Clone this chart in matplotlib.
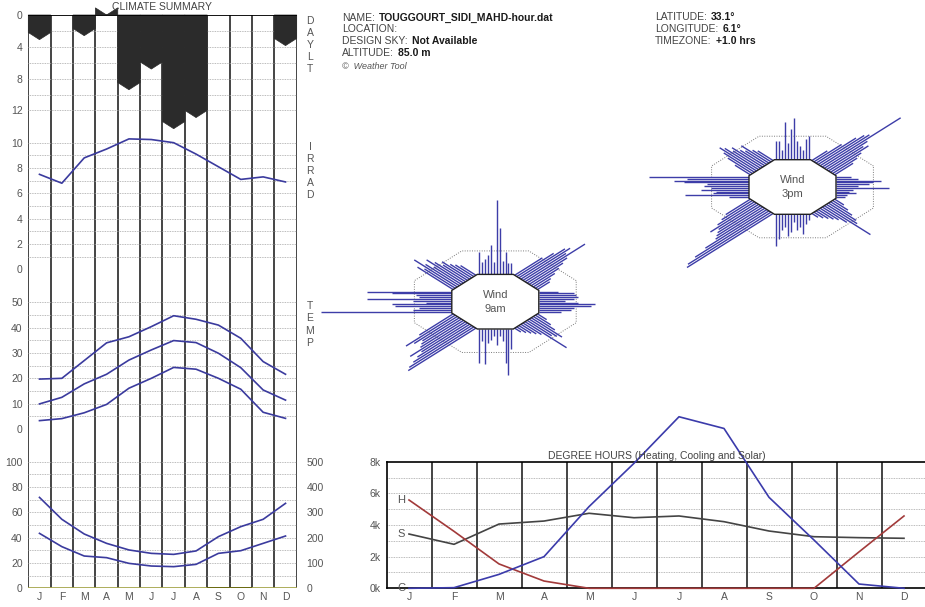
import numpy as np
import matplotlib
matplotlib.use("Agg")
import matplotlib.pyplot as plt
from matplotlib.collections import LineCollection
from matplotlib.patches import Polygon

plt.rcParams['font.family'] = ['Liberation Sans', 'DejaVu Sans']

# ---- data ----
months = ['J', 'F', 'M', 'A', 'M', 'J', 'J', 'A', 'S', 'O', 'N', 'D']
daylight = [3.1, np.nan, 2.6, 0.0, 9.4, 6.8, 14.3, 12.9, np.nan, np.nan, np.nan, 3.85]
irrad = [7.5, 6.8, 8.8, 9.5, 10.3, 10.25, 10.0, 9.1, 8.1, 7.1, 7.3, 6.9]
temp_max = [19.7, 20.0, 27.0, 34.0, 36.4, 40.4, 44.7, 43.3, 41.0, 35.8, 26.6, 21.6]
temp_mean = [9.9, 12.5, 17.8, 21.6, 27.2, 31.2, 34.9, 34.1, 29.9, 24.2, 15.4, 11.4]
temp_min = [3.3, 4.1, 6.4, 9.7, 16.1, 20.0, 24.3, 23.6, 20.0, 15.7, 6.6, 4.2]
rh_max = [71.8, 54.5, 42.9, 35.5, 30.3, 27.6, 26.8, 29.5, 40.8, 48.7, 54.5, 67.1]
rh_min = [43.4, 32.9, 25.5, 24.2, 19.7, 17.6, 17.1, 18.9, 27.6, 29.7, 35.5, 41.3]
rain = [0, 0, 0, 0, 0, 0, 0, 0, 5, 5, 0, 0]

dh_heat = [5580, 3600, 1540, 460, 0, 0, 0, 0, 0, 0, 2300, 4570]
dh_cool = [0, 40, 880, 2000, 5160, 7900, 10840, 10100, 5750, 3050, 270, 0]
dh_solar = [3430, 2780, 4060, 4250, 4740, 4460, 4570, 4210, 3620, 3260, 3200, 3160]

# wind rose bar lengths, faces N, NE, E, SE, S, SW, W, NW (clockwise along each face)
wind_9am = [
    [0.82, 0.46, 0.58, 0.7, 1.09, 0.46, 2.74, 1.71, 0.5, 0.82, 0.4, 0.4],
    [0.9, 1.2, 1.5, 1.6, 1.4, 1.95, 1.3, 1.1, 0.9, 0.7, 0.5, 0.4],
    [0.45, 0.8, 0.85, 0.9, 0.8, 0.6, 0.9, 1.3, 1.2, 0.8, 0.75, 0.5],
    [0.3, 0.5, 0.7, 1.0, 0.9, 0.8, 1.35, 0.6, 0.5, 0.4, 0.3, 0.2],
    [0.75, 1.67, 1.24, 0.45, 0.27, 0.57, 0.27, 0.4, 0.5, 1.3, 0.45, 1.24],
    [2.2, 2.1, 1.9, 1.7, 1.5, 1.8, 1.4, 1.3, 1.2, 1.4, 1.6, 1.1],
    [3.0, 0.9, 0.75, 1.3, 1.37, 0.6, 0.9, 1.95, 0.75, 0.83, 1.37, 1.95],
    [1.16, 1.0, 1.4, 1.1, 0.9, 1.2, 1.0, 0.8, 0.9, 0.7, 0.6, 0.5],
]
wind_3pm = [
    [0.68, 0.68, 0.37, 1.38, 0.62, 1.11, 1.54, 0.68, 0.5, 0.37, 0.75, 0.86],
    [0.5, 0.9, 1.3, 1.5, 1.6, 2.55, 1.4, 1.2, 1.3, 1.0, 0.8, 0.6],
    [0.35, 0.5, 1.03, 0.85, 0.75, 0.5, 1.22, 0.4, 0.3, 0.45, 0.25, 0.2],
    [0.3, 0.5, 0.7, 0.9, 1.0, 1.5, 0.8, 0.6, 0.5, 0.4, 0.3, 0.2],
    [0.22, 0.35, 0.72, 0.47, 0.59, 0.28, 0.65, 0.78, 0.47, 0.59, 0.9, 1.15],
    [2.8, 2.7, 2.4, 2.0, 1.6, 1.5, 1.4, 1.3, 1.5, 1.2, 1.0, 0.8],
    [0.47, 1.47, 0.83, 0.77, 1.11, 0.88, 1.04, 0.97, 1.49, 1.72, 1.42, 2.3],
    [0.5, 0.8, 1.0, 1.2, 1.1, 0.9, 1.0, 0.8, 0.7, 0.9, 0.6, 0.5],
]

GREY = '#555555'
BLUE = '#3b3b9e'
VLINE = '#363636'
W, H = 925, 607

fig = plt.figure(figsize=(W / 100, H / 100), dpi=100)


def px_axes(x0, y0, x1, y1):
    # axes placed by pixel box (top-left origin)
    ax = fig.add_axes([x0 / W, 1 - y1 / H, (x1 - x0) / W, (y1 - y0) / H])
    ax.patch.set_alpha(0)
    for s in ax.spines.values():
        s.set_visible(False)
    ax.tick_params(length=0, labelsize=7.5, labelcolor=GREY, pad=4)
    return ax


def dotted(ax, vals, x0, x1):
    ax.hlines(vals, x0, x1, color='#a4a4a4', lw=0.6, linestyles=(0, (1, 1)), zorder=1)


mx = np.arange(12)
LX0, LX1 = 28.3, 296.7

# ---- climate summary (left) ----
bg = px_axes(LX0, 15, LX1, 588.3)
bg.set_xlim(-0.5, 11.5)
bg.set_ylim(0, 1)
bg.set_xticks([])
bg.set_yticks([])
bg.vlines(np.arange(-0.5, 12), 0, 1, color=VLINE, lw=1.3)

# daylight
ax_d = px_axes(LX0, 15, LX1, 15 + 14 * 7.95)
ax_d.set_xlim(-0.5, 11.5)
ax_d.set_ylim(14, 0)
ax_d.set_xticks([])
ax_d.set_yticks([0, 4, 8, 12])
dotted(ax_d, np.arange(2, 13, 2), -0.5, 11.5)
for i, v in enumerate(daylight):
    if np.isnan(v):
        continue
    pts = [(i - 0.5, 0), (i + 0.5, 0), (i + 0.5, v - 0.9), (i, v), (i - 0.5, v - 0.9)]
    ax_d.add_patch(Polygon(pts, closed=True, fc='#2b2b2b', ec='#2b2b2b', lw=0.5,
                           clip_on=False, zorder=3))
ax_d.axhline(0, color='black', lw=1.3, zorder=4)

# irradiation
ax_i = px_axes(LX0, 269.3 - 11 * 12.66, LX1, 269.3)
ax_i.set_xlim(-0.5, 11.5)
ax_i.set_ylim(0, 11)
ax_i.set_xticks([])
ax_i.set_yticks(np.arange(0, 11, 2))
dotted(ax_i, np.arange(1, 11), -0.5, 11.5)
ax_i.plot(mx, irrad, color=BLUE, lw=1.2, zorder=3)

# temperature
ax_t = px_axes(LX0, 429 - 54 * 2.534, LX1, 429)
ax_t.set_xlim(-0.5, 11.5)
ax_t.set_ylim(0, 54)
ax_t.set_xticks([])
ax_t.set_yticks(np.arange(0, 51, 10))
dotted(ax_t, np.arange(5, 51, 5), -0.5, 11.5)
for series in (temp_max, temp_mean, temp_min):
    ax_t.plot(mx, series, color=BLUE, lw=1.2, zorder=3)

# humidity + rain
ax_h = px_axes(LX0, 461.7, LX1, 588.3)
ax_h.set_xlim(-0.5, 11.5)
ax_h.set_ylim(0, 100)
ax_h.set_yticks(np.arange(0, 101, 20))
ax_h.set_xticks(mx)
ax_h.set_xticklabels(months)
ax_h.tick_params(axis='x', pad=3)
dotted(ax_h, np.arange(10, 101, 10), -0.5, 11.5)
for series in (rh_max, rh_min):
    ax_h.plot(mx, series, color=BLUE, lw=1.2, zorder=3)
ax_r = ax_h.twinx()
for s in ax_r.spines.values():
    s.set_visible(False)
ax_r.set_ylim(0, 500)
ax_r.set_yticks(np.arange(0, 501, 100))
ax_r.tick_params(length=0, labelsize=7.5, labelcolor=GREY, pad=7)
ax_r.bar(mx, rain, width=1.0, color='#6b6b12', zorder=2)
ax_r.axhline(0, color='#a6a64c', lw=2, zorder=1)

fig.text(162.5 / W, 1 - 7.5 / H, 'CLIMATE SUMMARY', fontsize=7.5, color='#444444',
         ha='center', va='center')
for word, y0, step in (('DAYLT', 20.7, 12.1), ('IRRAD', 146.7, 12.1), ('TEMP', 306, 12.4)):
    for k, ch in enumerate(word):
        fig.text(310 / W, 1 - (y0 + k * step) / H, ch, fontsize=7.5, color=GREY,
                 ha='center', va='center')


# ---- header ----
def info(x, y, label, value):
    t = fig.text(x / W, 1 - y / H, label, fontsize=7.5, color='#444444', va='center')
    if value:
        fig.add_artist(plt.Annotation(value, xy=(1, 0.5), xycoords=t, xytext=(3, 0),
                                      textcoords='offset points', fontsize=7.5,
                                      color='#1a1a1a', fontweight='bold', va='center'))


info(342.3, 17.7, 'NAME:', 'TOUGGOURT_SIDI_MAHD-hour.dat')
info(342.3, 29.3, 'LOCATION:', '')
info(342.3, 40.7, 'DESIGN SKY:', 'Not Available')
info(342.3, 53.3, 'ALTITUDE:', '85.0 m')
fig.text(342.3 / W, 1 - 66.7 / H, '\u00a9  Weather Tool', fontsize=6.5, color='#555555',
         style='italic', va='center')
info(655, 16.5, 'LATITUDE:', '33.1°')
info(655, 28.5, 'LONGITUDE:', '6.1°')
info(655, 40.5, 'TIMEZONE:', '+1.0 hrs')

# ---- wind roses ----
SX, SY = 43.5, 27.3


def draw_rose(cx, cy, lengths, label):
    ax = px_axes(cx - 4.4 * SX, cy - 3.4 * SY, cx + 4.4 * SX, cy + 3.4 * SY)
    ax.set_xlim(-4.4, 4.4)
    ax.set_ylim(-3.4, 3.4)
    ax.set_xticks([])
    ax.set_yticks([])
    r_in = 1 / np.cos(np.radians(22.5))
    ang = np.radians(22.5 + 45 * np.arange(8))
    ax.add_patch(Polygon(np.c_[1.86 * r_in * np.cos(ang), 1.86 * r_in * np.sin(ang)],
                         closed=True, fill=False, ec='#7a7a7a', lw=0.7, ls=(0, (1, 1.5))))
    s = np.linspace(-0.37, 0.37, 12)
    segs = []
    for k, face in enumerate(lengths):
        th = np.radians(90 - 45 * k)
        n = np.array([np.cos(th), np.sin(th)])
        t = np.array([np.sin(th), -np.cos(th)])
        start = n + s[:, None] * t
        end = start + np.array(face)[:, None] * n
        segs += [[a, b] for a, b in zip(start, end)]
    ax.add_collection(LineCollection(segs, colors='#3d3da8', lw=1.0, clip_on=False, zorder=2))
    ax.add_patch(Polygon(np.c_[r_in * np.cos(ang), r_in * np.sin(ang)], closed=True,
                         fc='white', ec='#222222', lw=1.0, zorder=3))
    ax.text(0, 0, label, ha='center', va='center', fontsize=8, color='#555555',
            linespacing=1.5, zorder=4)


draw_rose(495.3, 301.7, wind_9am, 'Wind\n9am')
draw_rose(792.5, 187.0, wind_3pm, 'Wind\n3pm')

# ---- degree hours ----
ax_dh = px_axes(386.5, 461.7, 926.5, 588.3)
ax_dh.set_xlim(-0.5, 11.5)
ax_dh.set_ylim(0, 8000)
for side in ('left', 'top', 'bottom'):
    ax_dh.spines[side].set_visible(True)
    ax_dh.spines[side].set_color('black')
    ax_dh.spines[side].set_linewidth(1.2)
ax_dh.set_yticks(np.arange(0, 8001, 2000))
ax_dh.set_yticklabels([f'{v // 1000}k' for v in range(0, 8001, 2000)])
ax_dh.set_xticks(mx)
ax_dh.set_xticklabels(months)
ax_dh.tick_params(axis='x', pad=3)
dotted(ax_dh, np.arange(1000, 8000, 1000), -0.5, 11.5)
ax_dh.vlines(np.arange(0.5, 11), 0, 8000, color=VLINE, lw=1.3, zorder=2)
ax_dh.plot(mx, dh_solar, color='#444444', lw=1.2, zorder=3, clip_on=False)
ax_dh.plot(mx, dh_heat, color='#a23a3a', lw=1.2, zorder=3, clip_on=False)
ax_dh.plot(mx, dh_cool, color='#3b3bab', lw=1.2, zorder=3, clip_on=False)
for lab, series in (('H', dh_heat), ('S', dh_solar), ('C', dh_cool)):
    ax_dh.text(-0.17, series[0], lab, ha='center', va='center', fontsize=8, color=GREY)
fig.text(656.7 / W, 1 - 455.7 / H, 'DEGREE HOURS (Heating, Cooling and Solar)',
         fontsize=7.5, color='#444444', ha='center', va='center')

fig.savefig('out.png', dpi=100)
